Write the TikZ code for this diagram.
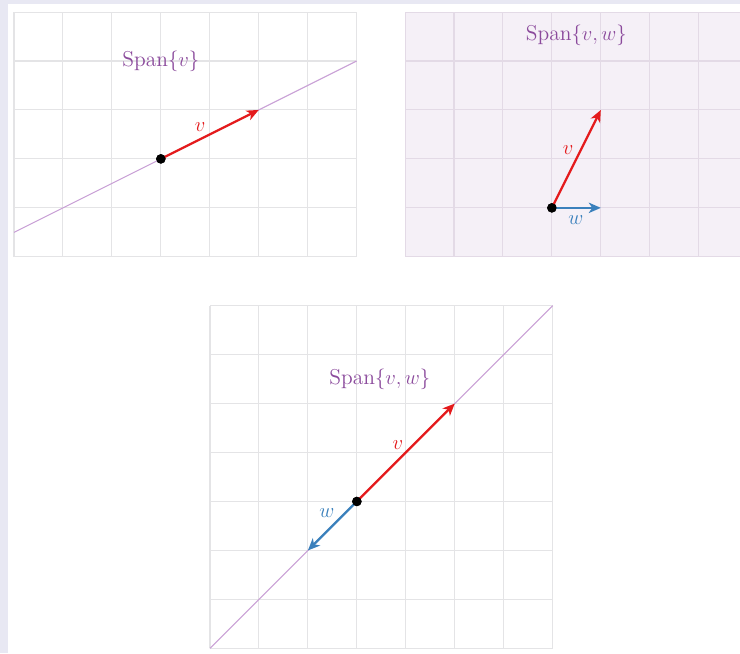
\documentclass[tikz,border=0pt]{standalone}
\usetikzlibrary{arrows.meta}
\definecolor{framebg}{HTML}{E8E8F3}
\definecolor{gridgray}{HTML}{E4E4E6}
\definecolor{panelbg}{HTML}{F5F0F7}
\definecolor{gridlav}{HTML}{E3DAE6}
\definecolor{spanline}{HTML}{C9A0D6}
\definecolor{spantext}{HTML}{8B4A9C}
\definecolor{vred}{HTML}{E41A1C}
\definecolor{wblue}{HTML}{3A80BC}
\tikzset{
  gridline/.style={line width=0.6pt},
  spanstyle/.style={draw=spanline,line width=0.6pt},
  vecv/.style={draw=vred,line width=1.3pt,-{Stealth[length=7pt,width=6pt,inset=2pt]}},
  vecw/.style={draw=wblue,line width=1.3pt,-{Stealth[length=7pt,width=6pt,inset=2pt]}},
  spanlabel/.style={text=spantext,font=\fontsize{12.5}{15}\selectfont,inner sep=1pt},
  vlabel/.style={text=vred,font=\fontsize{12.5}{15}\selectfont,inner sep=0pt},
  wlabel/.style={text=wblue,font=\fontsize{12.5}{15}\selectfont,inner sep=0pt},
  origindot/.style={fill=black,circle,inner sep=0pt,minimum size=5.5pt}
}
\begin{document}
\begin{tikzpicture}
\useasboundingbox (0,0) rectangle (15.117,-13.340);
\clip (0,0) rectangle (15.117,-13.340);
\fill[white] (0,0) rectangle (15.117,-13.340);
\fill[framebg] (0,0) rectangle (15.117,-0.082);
\fill[framebg] (0,0) rectangle (0.163,-13.340);

% Panel 1
\begin{scope}[shift={(0.286,-5.246)}]
  \draw[gridline,draw=gridgray] (0,0) grid (7,5);
  \coordinate (a1) at (0,0.5);
  \coordinate (b1) at (7,4);
  \draw[spanstyle] (a1) -- (b1);
  \node[origindot] (o1) at (3,2) {};
  \coordinate (v1) at (5,3);
  \draw[vecv] (o1.center) -- (v1);
  \node[origindot] at (3,2) {};
  \node[spanlabel] (s1) at (3,4) {Span$\{v\}$};
  \node[vlabel] (lv1) at (3.8,2.65) {$v$};
\end{scope}

% Panel 2
\begin{scope}[shift={(8.274,-5.246)}]
  \fill[panelbg] (0,0) rectangle (7,5);
  \draw[gridline,draw=gridlav] (0,0) grid (7,5);
  \node[origindot] (o2) at (3,1) {};
  \coordinate (v2) at (4,3);
  \coordinate (w2) at (4,1);
  \draw[vecv] (o2.center) -- (v2);
  \draw[vecw] (o2.center) -- (w2);
  \node[origindot] at (3,1) {};
  \node[spanlabel] (s2) at (3.5,4.53) {Span$\{v,w\}$};
  \node[vlabel] (lv2) at (3.33,2.18) {$v$};
  \node[wlabel] (lw2) at (3.49,0.75) {$w$};
\end{scope}

% Panel 3
\begin{scope}[shift={(4.290,-13.244)}]
  \draw[gridline,draw=gridgray] (0,0) grid (7,7);
  \coordinate (a3) at (0,0);
  \coordinate (b3) at (7,7);
  \draw[spanstyle] (a3) -- (b3);
  \node[origindot] (o3) at (3,3) {};
  \coordinate (v3) at (5,5);
  \coordinate (w3) at (2,2);
  \draw[vecv] (o3.center) -- (v3);
  \draw[vecw] (o3.center) -- (w3);
  \node[origindot] at (3,3) {};
  \node[spanlabel] (s3) at (3.47,5.5) {Span$\{v,w\}$};
  \node[vlabel] (lv3) at (3.84,4.16) {$v$};
  \node[wlabel] (lw3) at (2.39,2.76) {$w$};
\end{scope}
\end{tikzpicture}
\end{document}
